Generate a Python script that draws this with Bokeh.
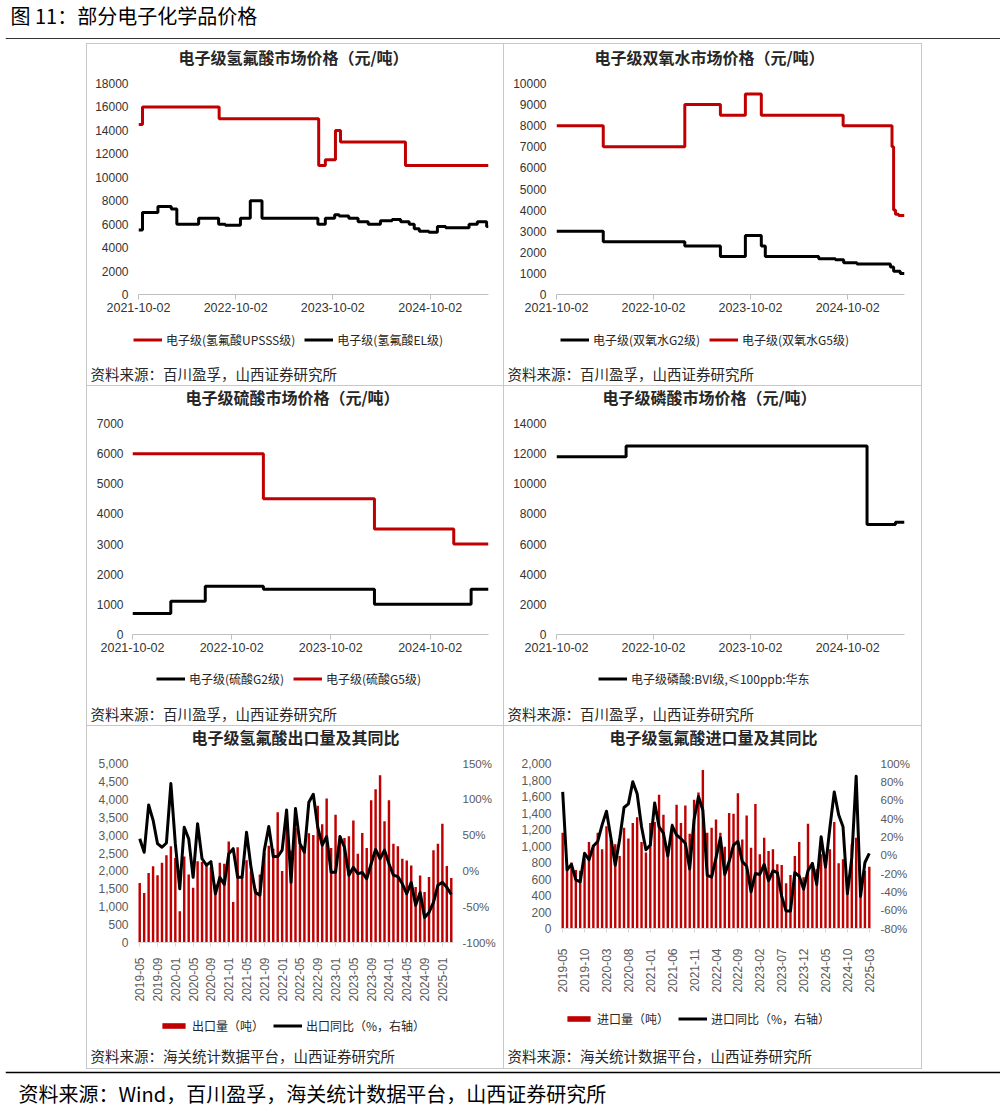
import numpy as np
import pandas as pd
from bokeh.plotting import figure
from bokeh.models import (Range1d, LinearAxis, FixedTicker, NumeralTickFormatter, PrintfTickFormatter,
                          DatetimeTickFormatter, Legend, LegendItem, Label, Span, Spacer, ColumnDataSource)
from bokeh.layouts import column, row
from bokeh.embed import file_html
from bokeh.resources import INLINE

CJK = "Noto Sans CJK SC"
RED = "#C00000"
BLACK = "#000000"
GRAYLINE = "#c8c8c8"

# ---------------- data ----------------
price_ticks = ["2021-10-02", "2022-10-02", "2023-10-02", "2024-10-02"]

hf_upsss_dates = ["2021-10-02", "2021-10-17", "2022-08-01", "2023-08-10", "2023-09-04", "2023-10-12",
                  "2023-10-31", "2024-07-01", "2025-05-09"]
hf_upsss_vals = [14500, 16000, 15000, 11000, 11500, 14000, 13000, 11000, 11000]
hf_el_dates = ["2021-10-02", "2021-10-17", "2021-12-14", "2022-02-02", "2022-02-23", "2022-05-16",
               "2022-07-30", "2022-08-24", "2022-10-20", "2022-11-26", "2023-01-09", "2023-08-07",
               "2023-09-04", "2023-10-09", "2023-10-26", "2023-12-01", "2024-01-05", "2024-02-12",
               "2024-03-29", "2024-05-12", "2024-06-13", "2024-07-15", "2024-08-03", "2024-08-22",
               "2024-09-27", "2024-10-29", "2024-11-29", "2025-02-25", "2025-03-28", "2025-05-02",
               "2025-05-09"]
hf_el_vals = [5500, 7000, 7500, 7300, 6000, 6500, 6000, 5900, 6500, 8000, 6500, 6000, 6500, 6800, 6700,
              6500, 6200, 6000, 6300, 6400, 6200, 6000, 5600, 5400, 5300, 5800, 5700, 6000, 6200, 5800, 5800]

h2o2_g2_dates = ["2021-10-02", "2022-03-27", "2023-01-28", "2023-06-11", "2023-09-13", "2023-11-12",
                 "2023-11-27", "2024-06-15", "2024-08-17", "2024-09-17", "2024-11-06", "2025-03-12",
                 "2025-03-24", "2025-04-18", "2025-05-04"]
h2o2_g2_vals = [3000, 2500, 2300, 1800, 2800, 2300, 1800, 1700, 1650, 1500, 1450, 1300, 1100, 1000, 1000]
h2o2_g5_dates = ["2021-10-02", "2022-03-27", "2023-01-28", "2023-06-11", "2023-09-13", "2023-11-12",
                 "2024-09-15", "2025-03-18", "2025-03-24", "2025-03-31", "2025-04-12", "2025-05-04"]
h2o2_g5_vals = [8000, 7000, 9000, 8500, 9500, 8500, 8000, 7000, 4000, 3800, 3750, 3750]

h2so4_g2_dates = ["2021-10-02", "2022-02-20", "2022-06-27", "2023-01-27", "2024-03-11", "2025-03-02",
                  "2025-05-05"]
h2so4_g2_vals = [700, 1100, 1600, 1500, 1000, 1500, 1500]
h2so4_g5_dates = ["2021-10-02", "2023-01-27", "2024-03-11", "2024-12-28", "2025-05-05"]
h2so4_g5_vals = [6000, 4500, 3500, 3000, 3000]

h3po4_dates = ["2021-10-02", "2022-06-21", "2024-12-14", "2025-03-31", "2025-05-04"]
h3po4_vals = [11800, 12500, 7300, 7450, 7450]

months = [f"{y}-{m:02d}" for y in range(2019, 2026) for m in range(1, 13)]
months = months[months.index("2019-05"): months.index("2025-03") + 1]

export_vol = [1660, 1380, 1940, 2130, 1880, 2230, 2440, 2690, 2360, 870, 2400, 1900, 1530, 2270, 2250,
              2180, 2100, 1620, 2230, 2200, 2820, 1130, 2660, 1830, 2300, 1990, 1500, 1900, 2500, 2700,
              2620, 3640, 2000, 3620, 2570, 3200, 2700, 2650, 3050, 3000, 3820, 3300, 4020, 2640, 3570,
              2975, 2920, 2965, 3410, 2480, 3060, 2640, 3970, 4280, 4670, 3385, 3970, 2760, 2690, 2340,
              2290, 2150, 1550, 1875, 1410, 1830, 2575, 2760, 3320, 2135, 1800]
export_yoy = [45, 26, 92, 71, 38, 33, 39, 122, 38, -25, 61, 45, -9, 66, 17, 8, 13, -32, -9, -19, 24, 31,
              -9, -9, 54, 5, -30, -34, 29, 62, 20, 20, 29, 85, -16, 87, 38, 26, 96, 107, 61, 36, 48, -2,
              -2, 48, 33, -6, 5, -4, -2, -11, 10, 30, 17, 29, 10, -6, -8, -18, -32, -16, -48, -30, -65,
              -58, -44, -20, -16, -23, -33]
import_vol = [1160, 730, 800, 710, 700, 850, 1050, 1000, 1160, 960, 1240, 1080, 1020, 880, 1220, 1090,
              1280, 1350, 1050, 920, 1280, 1290, 1620, 1380, 1000, 1270, 1500, 1280, 1490, 1150, 1560,
              1650, 1920, 1160, 1220, 1320, 1160, 990, 1400, 1390, 1640, 1080, 1370, 980, 1510, 900,
              1100, 940, 960, 780, 770, 550, 650, 880, 1050, 620, 1270, 800, 720, 900, 780, 960, 1290,
              790, 840, 600, 1020, 1100, 500, 700, 750]
import_yoy = [69, -16, -10, -27, -29, 2, -5, 10, 15, 33, 48, 19, -11, 17, 52, 56, 80, 67, 31, 6, 11, 57,
              31, 24, -1, 32, 22, 18, 13, -15, 39, 64, 49, -22, -24, -3, 19, -21, -7, 11, 15, -7, -12,
              -40, -20, -21, -10, -28, -17, -19, -45, -61, -61, -19, -23, -37, -17, -9, -32, 20, -13, 30,
              69, 44, 31, -42, -3, 86, -45, -8, 2]

SRC_BC = "资料来源：百川盈孚，山西证券研究所"
SRC_HG = "资料来源：海关统计数据平台，山西证券研究所"


def ms(d):
    return pd.Timestamp(d).value // 10**6


def blank_fig(w, h):
    """A figure whose frame is the whole canvas, 1 data unit = 1 px."""
    p = figure(width=w, height=h, output_backend="svg", toolbar_location=None,
               x_range=Range1d(0, w), y_range=Range1d(0, h),
               min_border_left=0, min_border_right=0, min_border_top=0, min_border_bottom=0)
    p.title = None
    p.axis.visible = False
    p.grid.visible = False
    p.outline_line_color = None
    return p


def title_fig(w, h, text, cx, cy_from_top):
    p = blank_fig(w, h)
    p.add_layout(Label(x=cx, y=h - cy_from_top, text=text, text_align="center", text_baseline="middle",
                       text_font=CJK, text_font_size="16px", text_font_style="bold", text_color="#262626"))
    return p


def legend_fig(w, h, entries, leg_x, leg_center_from_top, src_text, src_center_from_top):
    p = blank_fig(w, h)
    items = []
    for name, kind, color in entries:
        # legend swatch renderers: no visible data (NaN), only their style is used by the legend
        if kind == "bar":
            r = p.vbar(x=[np.nan], top=[np.nan], width=1, fill_color=color, line_color=None)
        else:
            r = p.line(x=[np.nan, np.nan], y=[np.nan, np.nan], line_color=color, line_width=3)
        items.append(LegendItem(label=name, renderers=[r]))
    lg = Legend(items=items, orientation="horizontal",
                location=(leg_x, h - leg_center_from_top - 7),
                label_text_font=CJK, label_text_font_size="12px", label_text_color="#262626",
                glyph_width=29, glyph_height=7, label_height=14, label_standoff=4, spacing=9,
                padding=0, margin=0, border_line_color=None, background_fill_alpha=0)
    p.add_layout(lg)
    p.add_layout(Label(x=3, y=h - src_center_from_top, text=src_text, text_align="left",
                       text_baseline="middle", text_font=CJK, text_font_size="14.5px",
                       text_color="#262626"))
    return p


def chart_base(w, h, left, right, top, bottom, **kw):
    p = figure(width=w, height=h, output_backend="svg", toolbar_location=None,
               min_border_left=left, min_border_right=right, min_border_top=top, min_border_bottom=bottom,
               **kw)
    p.title = None
    p.grid.visible = False
    p.outline_line_color = None
    return p


def price_chart(w, h, left, right, top, bottom, ymax, ystep, series, lab_standoff=10):
    start = "2021-10-02"
    end = max(s[1][-1] for s in series)
    p = chart_base(w, h, left, right, top, bottom, x_axis_type="datetime",
                   x_range=Range1d(pd.Timestamp(start), pd.Timestamp(end)), y_range=Range1d(0, ymax))
    for name, dates, vals, color in series:
        src = ColumnDataSource(dict(x=pd.to_datetime(dates), y=vals))
        p.step(x="x", y="y", source=src, mode="after", line_color=color, line_width=3)
    xa = p.xaxis[0]
    xa.ticker = FixedTicker(ticks=[ms(d) for d in price_ticks])
    fmt = "%Y-%m-%d"
    xa.formatter = DatetimeTickFormatter(milliseconds=fmt, seconds=fmt, minsec=fmt, minutes=fmt,
                                         hourmin=fmt, hours=fmt, days=fmt, months=fmt, years=fmt)
    xa.axis_line_color = "#bfbfbf"
    xa.major_tick_line_color = "#bfbfbf"
    xa.major_tick_out = 5
    xa.major_tick_in = 0
    xa.minor_tick_line_color = None
    xa.major_label_standoff = 3
    xa.major_label_text_font_size = "12.5px"
    xa.major_label_text_color = "#333333"
    ya = p.yaxis[0]
    ya.ticker = FixedTicker(ticks=list(range(0, ymax + 1, ystep)))
    ya.formatter = NumeralTickFormatter(format="0")
    ya.axis_line_color = None
    ya.major_tick_line_color = None
    ya.major_tick_out = 0
    ya.major_tick_in = 0
    ya.minor_tick_line_color = None
    ya.major_label_standoff = lab_standoff
    ya.major_label_text_font_size = "12px"
    ya.major_label_text_color = "#333333"
    return p


def trade_chart(w, h, left, right, top, bottom, vols, yoys, ymax, ystep, pmin, pmax, pstep, tick_step,
                lab_standoff):
    n = len(months)
    p = chart_base(w, h, left, right, top, bottom, x_range=Range1d(-0.5, n - 0.5), y_range=Range1d(0, ymax))
    p.extra_y_ranges = {"pct": Range1d(pmin, pmax)}
    src = ColumnDataSource(dict(x=list(range(n)), v=vols, y=yoys))
    p.vbar(x="x", top="v", width=0.55, source=src, fill_color=RED, line_color=None)
    p.line(x="x", y="y", source=src, y_range_name="pct", line_color=BLACK, line_width=3, line_join="round")
    xa = p.xaxis[0]
    ticks = list(range(0, n, tick_step))
    xa.ticker = FixedTicker(ticks=ticks)
    xa.major_label_overrides = {i: months[i] for i in ticks}
    xa.major_label_orientation = np.pi / 2
    xa.axis_line_color = "#d9d9d9"
    xa.major_tick_line_color = "#d9d9d9"
    xa.major_tick_out = 4
    xa.major_tick_in = 0
    xa.minor_tick_line_color = None
    xa.major_label_standoff = lab_standoff
    xa.major_label_text_font_size = "12px"
    xa.major_label_text_color = "#595959"
    ya = p.yaxis[0]
    ya.ticker = FixedTicker(ticks=list(range(0, ymax + 1, ystep)))
    ya.formatter = NumeralTickFormatter(format="0,0")
    ra = LinearAxis(y_range_name="pct")
    p.add_layout(ra, "right")
    ra.ticker = FixedTicker(ticks=list(range(pmin, pmax + 1, pstep)))
    ra.formatter = PrintfTickFormatter(format="%d%%")
    for a in (ya, ra):
        a.axis_line_color = None
        a.major_tick_line_color = None
        a.major_tick_out = 0
        a.major_tick_in = 0
        a.minor_tick_line_color = None
        a.major_label_standoff = 9
        a.major_label_text_font_size = "12px"
        a.major_label_text_color = "#595959"
    ra.major_label_text_font_size = "11.5px"
    return p


# ---- panel 1: 氢氟酸 (416 x 341) ----
t1 = title_fig(416, 25, "电子级氢氟酸市场价格（元/吨）", 206, 12.7)
c1 = price_chart(416, 252, 51, 15, 14, 27, 18000, 2000,
                 [("UPSSS", hf_upsss_dates, hf_upsss_vals, RED), ("EL", hf_el_dates, hf_el_vals, BLACK)])
l1 = legend_fig(416, 64, [("电子级(氢氟酸UPSSS级)", "line", RED), ("电子级(氢氟酸EL级)", "line", BLACK)],
                46, 19.7, SRC_BC, 52)
# ---- panel 2: 双氧水 (417 x 341) ----
t2 = title_fig(417, 25, "电子级双氧水市场价格（元/吨）", 205, 12.7)
c2 = price_chart(417, 252, 52, 17, 14, 27, 10000, 1000,
                 [("G2", h2o2_g2_dates, h2o2_g2_vals, BLACK), ("G5", h2o2_g5_dates, h2o2_g5_vals, RED)])
l2 = legend_fig(417, 64, [("电子级(双氧水G2级)", "line", BLACK), ("电子级(双氧水G5级)", "line", RED)],
                56, 19.7, SRC_BC, 52)
# ---- panel 3: 硫酸 (416 x 339) ----
t3 = title_fig(416, 23, "电子级硫酸市场价格（元/吨）", 205, 10.7)
c3 = price_chart(416, 252, 45, 15, 14, 27, 7000, 1000,
                 [("G2", h2so4_g2_dates, h2so4_g2_vals, BLACK), ("G5", h2so4_g5_dates, h2so4_g5_vals, RED)],
                 lab_standoff=9)
l3 = legend_fig(416, 64, [("电子级(硫酸G2级)", "line", BLACK), ("电子级(硫酸G5级)", "line", RED)],
                69, 19, SRC_BC, 52.3)
# ---- panel 4: 磷酸 (417 x 339) ----
t4 = title_fig(417, 23, "电子级磷酸市场价格（元/吨）", 205, 10.7)
c4 = price_chart(417, 252, 52, 17, 14, 27, 14000, 2000,
                 [("BVI", h3po4_dates, h3po4_vals, BLACK)])
l4 = legend_fig(417, 64, [("电子级磷酸:BVI级,≤100ppb:华东", "line", BLACK)], 94, 19, SRC_BC, 52.3)
# ---- panel 5: 出口 (416 x 342) ----
t5 = title_fig(416, 23, "电子级氢氟酸出口量及其同比", 208, 10.7)
c5 = trade_chart(416, 255, 50, 50, 14, 62, export_vol, export_yoy, 5000, 500, -100, 150, 50, 4, 11)
l5 = legend_fig(416, 64, [("出口量（吨）", "bar", RED), ("出口同比（%，右轴）", "line", BLACK)],
                72, 22.7, SRC_HG, 51)
# ---- panel 6: 进口 (417 x 342) ----
t6 = title_fig(417, 23, "电子级氢氟酸进口量及其同比", 209, 10.7)
c6 = trade_chart(417, 246, 56, 50, 14, 66, import_vol, import_yoy, 2000, 200, -80, 100, 20, 5, 16)
l6 = legend_fig(417, 73, [("进口量（吨）", "bar", RED), ("进口同比（%，右轴）", "line", BLACK)],
                60, 25, SRC_HG, 60)

# header / footer
hdr = blank_fig(995, 43)
hdr.add_layout(Label(x=5, y=43 - 15, text="图 11：部分电子化学品价格", text_align="left", text_baseline="middle",
                     text_font=CJK, text_font_size="20px", text_color="#000000"))
hdr.add_layout(Span(location=43 - 38, dimension="width", line_color="#333333", line_width=1))

ftr = blank_fig(995, 40)
ftr.add_layout(Span(location=40 - 3, dimension="width", line_color="#000000", line_width=1.5))
ftr.add_layout(Label(x=13, y=40 - 24, text="资料来源：Wind，百川盈孚，海关统计数据平台，山西证券研究所",
                     text_align="left", text_baseline="middle", text_font=CJK, text_font_size="20px",
                     text_color="#000000"))


def vline(h):
    return Spacer(width=1, height=h, styles={"background-color": GRAYLINE})


def hline():
    return row(Spacer(width=86, height=1), Spacer(width=836, height=1, styles={"background-color": GRAYLINE}))


def panel(t, c, l):
    # the chart is wrapped in its own row so its frame is not aligned with the title/legend strips
    return column(t, row(c), l)


def prow(a, b, h):
    return row(Spacer(width=86, height=h), vline(h), panel(*a), vline(h), panel(*b), vline(h))


layout = column(
    row(Spacer(width=5, height=43), hdr),
    hline(),
    prow((t1, c1, l1), (t2, c2, l2), 341),
    hline(),
    prow((t3, c3, l3), (t4, c4, l4), 339),
    hline(),
    prow((t5, c5, l5), (t6, c6, l6), 342),
    hline(),
    row(Spacer(width=5, height=40), ftr),
)

open("out.html", "w").write(file_html(layout, INLINE))
